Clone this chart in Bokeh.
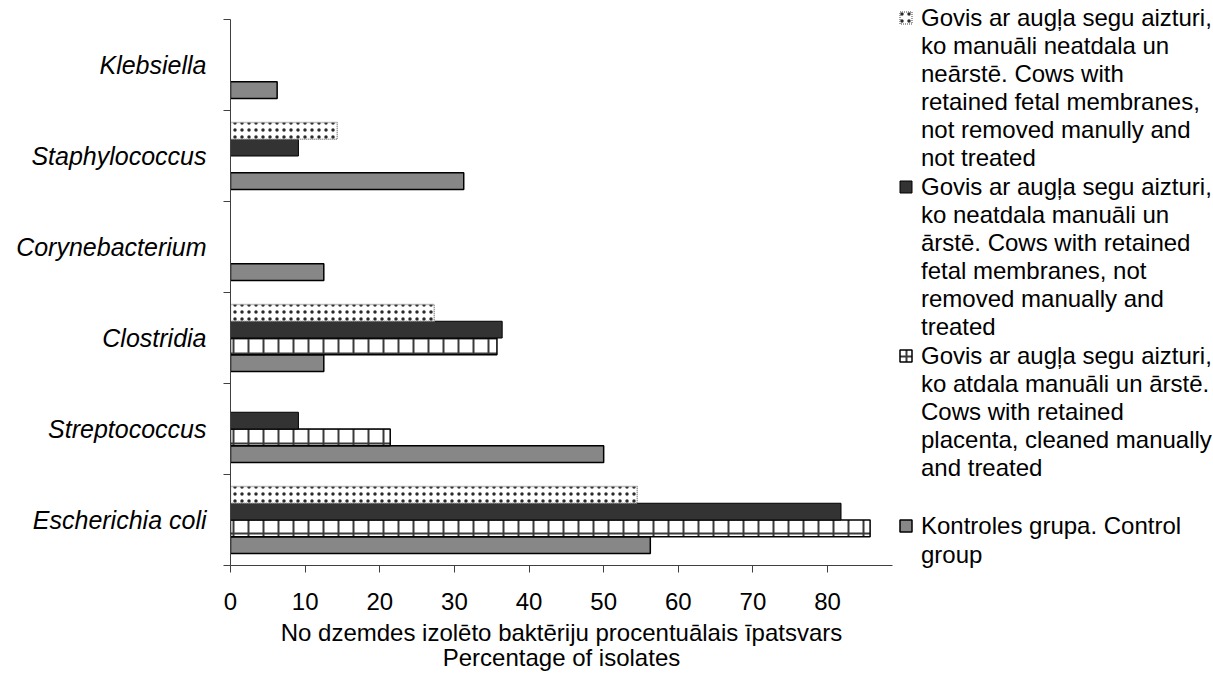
from bokeh.plotting import figure
from bokeh.models import ColumnDataSource, FixedTicker, Legend, LegendItem, Range1d
from bokeh.transform import dodge
from bokeh.embed import file_html
from bokeh.resources import INLINE

# ---------------- data ----------------
categories = ["Escherichia coli", "Streptococcus", "Clostridia",
              "Corynebacterium", "Staphylococcus", "Klebsiella"]
control = [56.25, 50.0, 12.5, 12.5, 31.25, 6.25]
manual_treated = [85.7, 21.4, 35.7, 0.0, 0.0, 0.0]
not_manual_treated = [81.8, 9.1, 36.4, 0.0, 9.1, 0.0]
not_manual_not_treated = [54.5, 0.0, 27.3, 0.0, 14.3, 0.0]
x_ticks = [0, 10, 20, 30, 40, 50, 60, 70, 80]

label_not_treated = ["Govis ar augļa segu aizturi,", "ko manuāli neatdala un", "neārstē. Cows with",
                     "retained fetal membranes,", "not removed manully and", "not treated"]
label_not_manual = ["Govis ar augļa segu aizturi,", "ko neatdala manuāli un", "ārstē. Cows with retained",
                    "fetal membranes, not", "removed manually and", "treated"]
label_manual = ["Govis ar augļa segu aizturi,", "ko atdala manuāli un ārstē.", "Cows with retained",
                "placenta, cleaned manually", "and treated"]
label_control = ["Kontroles grupa. Control", "group"]
x_title = "No dzemdes izolēto baktēriju procentuālais īpatsvars\nPercentage of isolates"

FONT = "Liberation Sans"
n = len(categories)
centers = [i + 0.5 for i in range(n)]
boundaries = list(range(n + 1))

p = figure(frame_width=662, frame_height=546, output_backend="svg", toolbar_location=None,
           x_range=Range1d(0, 88.7), y_range=Range1d(0, n),
           min_border_left=230, min_border_right=321, min_border_top=19,
           min_border_bottom=10)
p.xgrid.visible = False
p.ygrid.visible = False
p.outline_line_color = None
p.background_fill_color = "white"
p.border_fill_color = "white"


def make_source(vals):
    ys = [c for c, v in zip(centers, vals) if v > 0]
    xs = [v for v in vals if v > 0]
    return ColumnDataSource(dict(y=ys, x=xs))


bar_h = 0.184

r_control = p.hbar(y=dodge("y", -1.5 * bar_h, range=p.y_range), left=0, right="x",
                   height=bar_h, source=make_source(control),
                   fill_color="#878787", line_color="black", line_width=1.5)
r_manual = p.hbar(y=dodge("y", -0.5 * bar_h, range=p.y_range), left=0, right="x",
                  height=bar_h, source=make_source(manual_treated),
                  fill_color="white", line_color="black", line_width=1.5,
                  hatch_pattern="+", hatch_color="#3a3a3a", hatch_weight=2,
                  hatch_scale=15)
r_not_manual = p.hbar(y=dodge("y", 0.5 * bar_h, range=p.y_range), left=0, right="x",
                      height=bar_h, source=make_source(not_manual_treated),
                      fill_color="#333333", line_color="black", line_width=1)
r_not_treated = p.hbar(y=dodge("y", 1.5 * bar_h, range=p.y_range), left=0, right="x",
                       height=bar_h, source=make_source(not_manual_not_treated),
                       fill_color="white", line_color="#808080", line_width=1.5,
                       line_dash="1 1", hatch_pattern="dot", hatch_color="#2a2a2a",
                       hatch_weight=5, hatch_scale=7)
# invisible renderer used for legend continuation lines (draws nothing)
r_blank = p.hbar(y=[], left=[], right=[], height=bar_h, fill_color=None, line_color=None)

# ---------------- axes ----------------
yax = p.yaxis[0]
yax.ticker = FixedTicker(ticks=centers, minor_ticks=boundaries)
yax.major_label_overrides = {c: name for c, name in zip(centers, categories)}
yax.major_tick_out = 0
yax.major_tick_in = 0
yax.minor_tick_out = 7
yax.minor_tick_in = 0
yax.minor_tick_line_color = "#404040"
yax.axis_line_color = "#404040"
yax.major_label_text_font = FONT
yax.major_label_text_font_size = "25px"
yax.major_label_text_font_style = "italic"
yax.major_label_text_color = "black"
yax.major_label_standoff = 17

xax = p.xaxis[0]
xax.ticker = FixedTicker(ticks=x_ticks)
xax.minor_tick_line_color = None
xax.major_tick_out = 7
xax.major_tick_in = 0
xax.major_tick_line_color = "#404040"
xax.axis_line_color = "#404040"
xax.major_label_text_font = FONT
xax.major_label_text_font_size = "24px"
xax.major_label_text_color = "black"
xax.major_label_standoff = 20
xax.axis_label = x_title
xax.axis_label_text_font = FONT
xax.axis_label_text_font_size = "24px"
xax.axis_label_text_font_style = "normal"
xax.axis_label_text_color = "black"
xax.axis_label_text_line_height = 0.93
xax.axis_label_standoff = 6

# ---------------- legend ----------------
def entry(lines, renderer):
    return [LegendItem(label=lines[0], renderers=[renderer]),
            LegendItem(label="\n".join(lines[1:]), renderers=[r_blank])]


items = (entry(label_not_treated, r_not_treated)
         + entry(label_not_manual, r_not_manual)
         + entry(label_manual, r_manual)
         + [LegendItem(label=" ", renderers=[r_blank])]
         + entry(label_control, r_control))

legend = Legend(items=items, location=(6, -4))
legend.border_line_color = None
legend.background_fill_alpha = 0
legend.padding = 0
legend.margin = 0
legend.spacing = 0
legend.glyph_width = 15
legend.glyph_height = 15
legend.label_standoff = 8
legend.label_text_font = FONT
legend.label_text_font_size = "24px"
legend.label_text_line_height = 1.2
legend.label_text_color = "black"
legend.label_height = 29
p.add_layout(legend, "right")

open("out.html", "w").write(file_html(p, INLINE))
